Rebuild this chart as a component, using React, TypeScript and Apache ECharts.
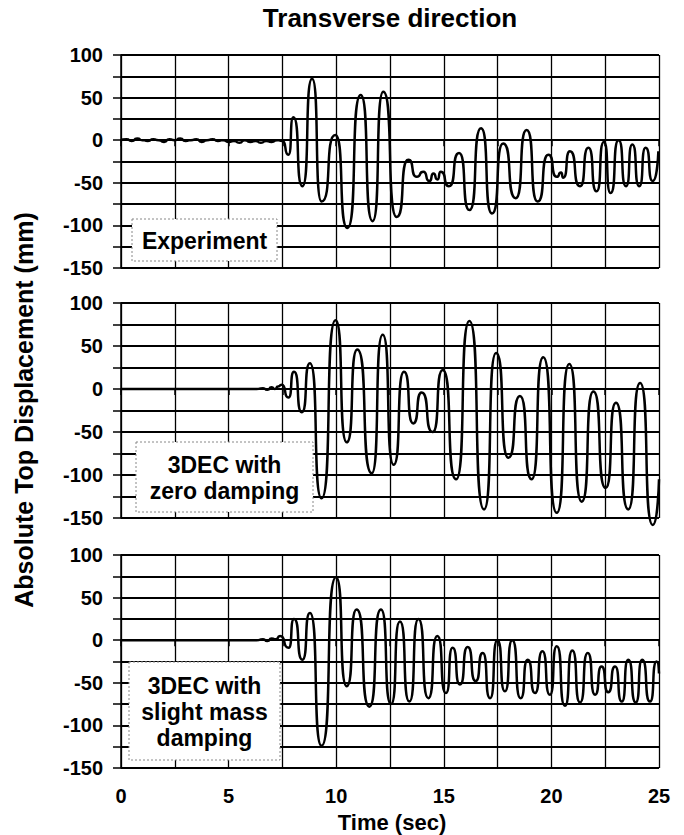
import React, { useEffect, useRef } from 'react';
import * as echarts from 'echarts';

const FONT = '"Liberation Sans", Arial, Helvetica, sans-serif';

// Panel 1: Experiment
const expTime = [
  0, 0.25, 0.5, 0.75, 1, 1.25, 1.5, 1.75, 2, 2.25, 2.5, 2.75, 3, 3.25, 3.5, 3.75, 4, 4.25, 4.5, 4.75,
  5, 5.25, 5.5, 5.75, 6, 6.25, 6.5, 6.75, 7, 7.25, 7.5,
  7.78, 8.01, 8.43, 8.88, 9.32, 9.96, 10.52, 11.14, 11.69, 12.19, 12.81, 13.35, 13.74, 14.05, 14.33,
  14.52, 14.7, 14.86, 15.24, 15.71, 16.19, 16.73, 17.24, 17.76, 18.34, 18.85, 19.36, 19.86, 20.25,
  20.45, 20.55, 20.86, 21.33, 21.72, 22.1, 22.44, 22.75, 23.12, 23.47, 23.76, 24.08, 24.38, 24.71, 24.97,
];
const expDisp = [
  0, 1, -1, 2, 0, -1, 1, 0, -2, 1, 0, 2, -1, 0, 1, -2, 0, 1, -1, 0,
  -2, -1, -3, 0, -2, -1, -3, -1, -2, 0, -1,
  -17, 27, -54, 72, -72, 6, -103, 53, -95, 57, -90, -23, -43, -37, -48,
  -39, -46, -37, -54, -15, -82, 14, -86, -4, -68, 12, -72, -17, -43,
  -38, -44, -13, -54, -9, -60, -2, -62, 0, -54, -5, -54, -9, -48, -13,
];

// Panel 2: 3DEC with zero damping
const zeroTime = [
  0, 3, 6.3, 6.6, 6.8, 7.0, 7.15, 7.3, 7.47, 7.78, 8.04, 8.4, 8.78, 9.32, 9.97, 10.49, 10.98, 11.65,
  12.16, 12.67, 13.15, 13.58, 13.97, 14.48, 14.95, 15.57, 16.19, 16.87, 17.43, 18.0, 18.54, 19.08,
  19.62, 20.25, 20.83, 21.41, 21.95, 22.52, 23.0, 23.57, 24.12, 24.71, 25.0,
];
const zeroDisp = [
  0, 0, 0, 1, -1, 2, 0, 3, 5, -10, 20, -27, 30, -127, 80, -62, 46, -98,
  63, -88, 20, -40, -4, -50, 22, -105, 79, -140, 42, -80, -8, -105,
  37, -144, 29, -131, -3, -115, -16, -140, 7, -158, -105,
];

// Panel 3: 3DEC with slight mass damping
const massTime = [
  0, 3, 6.3, 6.6, 6.8, 7.0, 7.2, 7.39, 7.79, 8.04, 8.43, 8.78, 9.32, 9.99, 10.49, 10.95, 11.54, 12.08,
  12.55, 12.96, 13.4, 13.82, 14.28, 14.7, 15.1, 15.41, 15.75, 16.11, 16.48, 16.81, 17.15, 17.49,
  17.84, 18.18, 18.57, 18.9, 19.24, 19.58, 19.93, 20.25, 20.63, 20.97, 21.33, 21.69, 22.03, 22.33,
  22.64, 22.96, 23.27, 23.57, 23.92, 24.22, 24.58, 24.89, 25.0,
];
const massDisp = [
  0, 0, 0, 1, -1, 2, 1, 5, -9, 25, -23, 32, -124, 74, -54, 36, -78, 36,
  -75, 22, -72, 25, -68, 5, -62, -9, -52, -8, -48, -15, -68, 0,
  -60, 0, -68, -23, -62, -13, -64, -7, -77, -12, -73, -15, -64, -31,
  -61, -31, -72, -23, -73, -23, -72, -25, -39,
];

const panelLabels = ['Experiment', '3DEC with\nzero damping', '3DEC with\nslight mass\ndamping'];
const yTickLabels = [-150, -100, -50, 0, 50, 100];
const xTickLabels = [0, 5, 10, 15, 20, 25];

const title = 'Transverse direction';
const yTitle = 'Absolute Top Displacement (mm)';
const xTitle = 'Time (sec)';

const zip = (t: number[], v: number[]) => t.map((x, i) => [x, v[i]]);

export default function App() {
  const ref = useRef<HTMLDivElement>(null);
  useEffect(() => {
    const chart = echarts.init(ref.current!, null, { renderer: 'svg' });
    const tops = [55, 303, 555];
    const heights = [213, 215, 213];
    const series = [zip(expTime, expDisp), zip(zeroTime, zeroDisp), zip(massTime, massDisp)];
    const boxes = [
      { x: 132, y: 219, w: 145, h: 42 },
      { x: 136, y: 442, w: 177, h: 70 },
      { x: 129, y: 662, w: 151, h: 98 },
    ];
    const option: any = {
      animation: false,
      backgroundColor: '#fff',
      grid: tops.map((t, i) => ({ left: 121, width: 538, top: t, height: heights[i] })),
      xAxis: tops.map((_, i) => ({
        type: 'value',
        gridIndex: i,
        min: 0,
        max: 25,
        interval: 2.5,
        axisLine: { show: true, lineStyle: { color: '#000', width: 1.5 } },
        axisTick: { show: true, length: 6, lineStyle: { color: '#000', width: 1.5 } },
        axisLabel: {
          show: i === 2,
          margin: 18,
          color: '#000',
          fontSize: 20,
          fontWeight: 'bold',
          fontFamily: FONT,
          formatter: (v: number) => (xTickLabels.includes(v) ? String(v) : ''),
        },
        splitLine: { show: true, lineStyle: { color: '#000', width: 1.3 } },
      })),
      yAxis: tops.map((_, i) => ({
        type: 'value',
        gridIndex: i,
        min: -150,
        max: 100,
        interval: 25,
        axisLine: { show: true, lineStyle: { color: '#000', width: 1.5 } },
        axisTick: { show: true, length: 8, lineStyle: { color: '#000', width: 1.5 } },
        axisLabel: {
          margin: 18,
          color: '#000',
          fontSize: 20,
          fontWeight: 'bold',
          fontFamily: FONT,
          formatter: (v: number) => (yTickLabels.includes(v) ? String(v) : ''),
        },
        splitLine: { show: true, lineStyle: { color: '#000', width: 2 } },
      })),
      series: series.map((d, i) => ({
        type: 'line',
        xAxisIndex: i,
        yAxisIndex: i,
        data: d,
        symbol: 'none',
        smooth: 0.8,
        smoothMonotone: 'x',
        clip: false,
        lineStyle: { color: '#000', width: 2.5 },
        z: 5,
      })),
      graphic: [
        {
          type: 'text',
          x: 390,
          y: 18,
          style: { text: title, font: `bold 26px ${FONT}`, fill: '#000', align: 'center', verticalAlign: 'middle' },
        },
        {
          type: 'text',
          x: 24,
          y: 410,
          rotation: Math.PI / 2,
          style: { text: yTitle, font: `bold 25px ${FONT}`, fill: '#000', align: 'center', verticalAlign: 'middle' },
        },
        {
          type: 'text',
          x: 392,
          y: 822,
          style: { text: xTitle, font: `bold 22px ${FONT}`, fill: '#000', align: 'center', verticalAlign: 'middle' },
        },
        ...boxes.flatMap((b, i) => [
          {
            type: 'rect',
            z: 100,
            shape: { x: b.x, y: b.y, width: b.w, height: b.h },
            style: { fill: '#fff', stroke: '#888', lineWidth: 1, lineDash: [2, 2] },
          },
          {
            type: 'text',
            z: 101,
            x: b.x + b.w / 2,
            y: b.y + b.h / 2 + 1,
            style: {
              text: panelLabels[i],
              font: `bold 23px ${FONT}`,
              lineHeight: 26,
              fill: '#000',
              align: 'center',
              verticalAlign: 'middle',
            },
          },
        ]),
      ],
    };
    chart.setOption(option);
    return () => chart.dispose();
  }, []);
  return (
    <div
      ref={ref}
      style={{ position: 'absolute', left: 0, top: 0, width: 684, height: 835, background: '#fff' }}
    />
  );
}
